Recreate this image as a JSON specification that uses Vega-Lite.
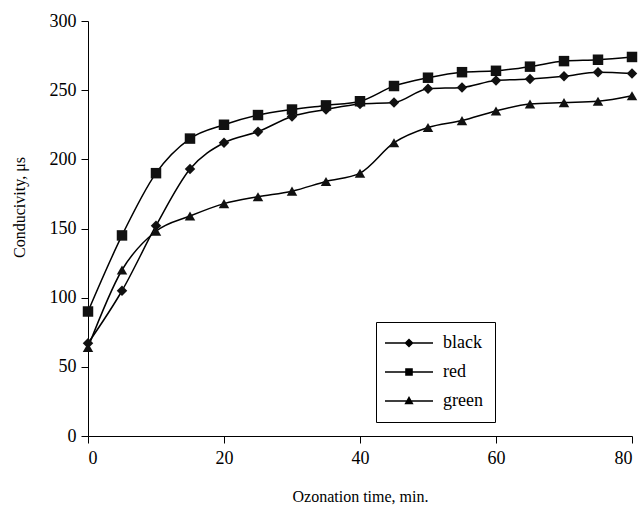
{
  "$schema": "https://vega.github.io/schema/vega-lite/v6.json",
  "width": 544,
  "height": 415,
  "autosize": {"type": "none"},
  "padding": {"left": 88, "top": 21, "right": 10, "bottom": 72},
  "background": "white",
  "config": {
    "view": {"stroke": null},
    "font": "Liberation Serif",
    "axis": {
      "grid": false,
      "domainColor": "black",
      "tickColor": "black",
      "labelColor": "black",
      "titleColor": "black",
      "labelFont": "Liberation Serif",
      "titleFont": "Liberation Serif",
      "labelFontSize": 18,
      "titleFontSize": 16,
      "titleFontWeight": "normal",
      "tickSize": 7
    }
  },
  "data": {
    "values": [
      {"t": 0, "series": "black", "value": 67},
      {"t": 5, "series": "black", "value": 105},
      {"t": 10, "series": "black", "value": 152},
      {"t": 15, "series": "black", "value": 193},
      {"t": 20, "series": "black", "value": 212},
      {"t": 25, "series": "black", "value": 220},
      {"t": 30, "series": "black", "value": 231},
      {"t": 35, "series": "black", "value": 236},
      {"t": 40, "series": "black", "value": 240},
      {"t": 45, "series": "black", "value": 241},
      {"t": 50, "series": "black", "value": 251},
      {"t": 55, "series": "black", "value": 252},
      {"t": 60, "series": "black", "value": 257},
      {"t": 65, "series": "black", "value": 258},
      {"t": 70, "series": "black", "value": 260},
      {"t": 75, "series": "black", "value": 263},
      {"t": 80, "series": "black", "value": 262},
      {"t": 0, "series": "red", "value": 90},
      {"t": 5, "series": "red", "value": 145},
      {"t": 10, "series": "red", "value": 190},
      {"t": 15, "series": "red", "value": 215},
      {"t": 20, "series": "red", "value": 225},
      {"t": 25, "series": "red", "value": 232},
      {"t": 30, "series": "red", "value": 236},
      {"t": 35, "series": "red", "value": 239},
      {"t": 40, "series": "red", "value": 242},
      {"t": 45, "series": "red", "value": 253},
      {"t": 50, "series": "red", "value": 259},
      {"t": 55, "series": "red", "value": 263},
      {"t": 60, "series": "red", "value": 264},
      {"t": 65, "series": "red", "value": 267},
      {"t": 70, "series": "red", "value": 271},
      {"t": 75, "series": "red", "value": 272},
      {"t": 80, "series": "red", "value": 274},
      {"t": 0, "series": "green", "value": 64},
      {"t": 5, "series": "green", "value": 120},
      {"t": 10, "series": "green", "value": 148},
      {"t": 15, "series": "green", "value": 159},
      {"t": 20, "series": "green", "value": 168},
      {"t": 25, "series": "green", "value": 173},
      {"t": 30, "series": "green", "value": 177},
      {"t": 35, "series": "green", "value": 184},
      {"t": 40, "series": "green", "value": 190},
      {"t": 45, "series": "green", "value": 212},
      {"t": 50, "series": "green", "value": 223},
      {"t": 55, "series": "green", "value": 228},
      {"t": 60, "series": "green", "value": 235},
      {"t": 65, "series": "green", "value": 240},
      {"t": 70, "series": "green", "value": 241},
      {"t": 75, "series": "green", "value": 242},
      {"t": 80, "series": "green", "value": 246}
    ]
  },
  "encoding": {
    "x": {
      "field": "t", "type": "quantitative",
      "scale": {"domain": [0, 80], "nice": false},
      "axis": {"values": [0, 20, 40, 60, 80], "title": "Ozonation time, min.", "labelPadding": 6, "titlePadding": 21}
    },
    "y": {
      "field": "value", "type": "quantitative",
      "scale": {"domain": [0, 300], "nice": false},
      "axis": {"values": [0, 50, 100, 150, 200, 250, 300], "title": "Conducivity, μs", "labelPadding": 5, "titlePadding": 22, "titleY": 186}
    }
  },
  "layer": [
    {
      "mark": {"type": "line", "interpolate": "monotone", "color": "black", "strokeWidth": 1.5},
      "encoding": {"detail": {"field": "series"}}
    },
    {
      "mark": {"type": "point", "filled": true, "color": "#111", "opacity": 1, "size": 110},
      "encoding": {
        "shape": {
          "field": "series", "type": "nominal",
          "scale": {"domain": ["black", "red", "green"], "range": ["diamond", "square", "triangle-up"]},
          "legend": null
        }
      }
    },
    {
      "mark": {"type": "point", "filled": true, "color": "black", "opacity": 0, "size": 64},
      "encoding": {
        "shape": {
          "field": "series", "type": "nominal",
          "scale": {"domain": ["black", "red", "green"], "range": [
            "M-6,-0.17L6,-0.17L6,0.17L-6,0.17ZM0,-1.15L1.15,0L0,1.15L-1.15,0Z",
            "M-6,-0.17L6,-0.17L6,0.17L-6,0.17ZM-0.95,-0.95L0.95,-0.95L0.95,0.95L-0.95,0.95Z",
            "M-6,-0.17L6,-0.17L6,0.17L-6,0.17ZM0,-1.25L1.15,0.8L-1.15,0.8Z"
          ]},
          "legend": {
            "title": null,
            "orient": "none",
            "legendX": 288,
            "legendY": 301,
            "strokeColor": "black",
            "fillColor": "white",
            "padding": 12,
            "symbolOpacity": 1,
            "symbolFillColor": "black",
            "symbolStrokeColor": "black",
            "symbolStrokeWidth": 0,
            "symbolSize": 64,
            "symbolOffset": 12,
            "labelOffset": 25,
            "labelFont": "Liberation Serif",
            "labelFontSize": 18,
            "labelColor": "black",
            "rowPadding": 11
          }
        }
      }
    }
  ],
  "resolve": {"scale": {"shape": "independent"}, "legend": {"shape": "independent"}}
}
